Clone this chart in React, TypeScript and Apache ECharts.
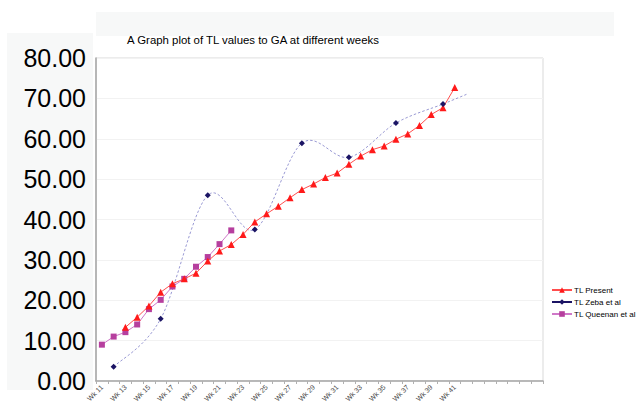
import React, { useEffect, useRef } from "react";
import * as echarts from "echarts";

const weeks: string[] = [
  "Wk 11", "Wk 12", "Wk 13", "Wk 14", "Wk 15", "Wk 16", "Wk 17", "Wk 18",
  "Wk 19", "Wk 20", "Wk 21", "Wk 22", "Wk 23", "Wk 24", "Wk 25", "Wk 26",
  "Wk 27", "Wk 28", "Wk 29", "Wk 30", "Wk 31", "Wk 32", "Wk 33", "Wk 34",
  "Wk 35", "Wk 36", "Wk 37", "Wk 38", "Wk 39", "Wk 40", "Wk 41", "Wk 42",
  "", "", "", "", "", "",
];

// values aligned with weeks (null = no measurement)
const tlPresent: (number | null)[] = [
  null, null, 13.3, 15.8, 18.6, 22.0, 24.1, 25.3, 26.7, 29.7, 32.2, 33.8,
  36.3, 39.4, 41.4, 43.3, 45.4, 47.4, 48.8, 50.4, 51.5, 53.7, 55.7, 57.3,
  58.2, 59.9, 61.2, 63.3, 66.0, 67.7, 72.7, null,
];

const zebaWeeks: string[] = ["Wk 12", "Wk 16", "Wk 20", "Wk 24", "Wk 28", "Wk 32", "Wk 36", "Wk 40"];
const zebaValues: number[] = [3.5, 15.4, 46.0, 37.5, 58.9, 55.4, 63.9, 68.6];
// end of the dashed smoothed Zeba curve
const zebaCurveEndWeek = "Wk 42";
const zebaCurveEndValue = 71.0;

const queenan: (number | null)[] = [
  9.0, 11.0, 12.1, 14.0, 17.8, 20.1, 23.4, 25.3, 28.3, 30.7, 33.9, 37.3,
];

const yTicks = { min: 0, max: 80, interval: 10 };
const titleText = "A Graph plot of TL values to GA at different weeks";

export default function App() {
  const ref = useRef<HTMLDivElement>(null);
  useEffect(() => {
    if (!ref.current) return;
    const chart = echarts.init(ref.current, null, { renderer: "svg" });
    const zebaAligned = weeks.map((w) => {
      const i = zebaWeeks.indexOf(w);
      return i >= 0 && w !== "" ? zebaValues[i] : null;
    });
    const curveWeeks = [...zebaWeeks, zebaCurveEndWeek];
    const curveValues = [...zebaValues, zebaCurveEndValue];
    const font = "'Liberation Sans', Arial, sans-serif";

    const renderCurve = (_params: any, api: any) => {
      const pts: number[][] = curveWeeks.map((w, i) => api.coord([weeks.indexOf(w), curveValues[i]]));
      const n = pts.length;
      let d = `M${pts[0][0]},${pts[0][1]}`;
      for (let i = 0; i < n - 1; i++) {
        const p0 = pts[Math.max(i - 1, 0)];
        const p1 = pts[i];
        const p2 = pts[i + 1];
        const p3 = pts[Math.min(i + 2, n - 1)];
        const c1x = p1[0] + (p2[0] - p0[0]) / 6;
        const c1y = p1[1] + (p2[1] - p0[1]) / 6;
        const c2x = p2[0] - (p3[0] - p1[0]) / 6;
        const c2y = p2[1] - (p3[1] - p1[1]) / 6;
        d += ` C${c1x},${c1y} ${c2x},${c2y} ${p2[0]},${p2[1]}`;
      }
      return {
        type: "path",
        shape: { pathData: d },
        style: { stroke: "#9a9ad4", fill: "none", lineWidth: 1, lineDash: [2.5, 2] },
        silent: true,
      };
    };

    chart.setOption({
      animation: false,
      backgroundColor: "#ffffff",
      textStyle: { fontFamily: font },
      graphic: [
        { type: "rect", z: -10, shape: { x: 96, y: 12, width: 518, height: 24 }, style: { fill: "#f7f8f8" } },
        { type: "rect", z: -10, shape: { x: 7, y: 33, width: 86, height: 357 }, style: { fill: "#f7f8f8" } },
        {
          type: "text", x: 253, y: 40, z: 10,
          style: { text: titleText, fontSize: 11.4, fontFamily: font, fill: "#000", textAlign: "center", textVerticalAlign: "middle" },
        },
      ],
      legend: {
        orient: "vertical",
        left: 546,
        top: 281,
        itemWidth: 20,
        itemHeight: 7,
        itemGap: 4,
        textStyle: { fontSize: 8, fontFamily: font, color: "#000", padding: [0, 0, 0, -3] },
        data: ["TL Present", "TL Zeba et al", "TL Queenan et al"],
      },
      grid: { left: 96, right: 98, top: 58, bottom: 26, show: true, borderColor: "#d9d9d9", borderWidth: 1, backgroundColor: "#fff" },
      xAxis: {
        type: "category",
        data: weeks,
        boundaryGap: true,
        axisLine: { lineStyle: { color: "#a6a6a6", width: 1.5 } },
        axisTick: { show: true, interval: 0, length: 3, lineStyle: { color: "#b0b0b0" } },
        axisLabel: { interval: 1, rotate: 45, fontSize: 7, color: "#444", margin: 5, fontFamily: font },
        splitLine: { show: false },
      },
      yAxis: {
        type: "value",
        min: yTicks.min,
        max: yTicks.max,
        interval: yTicks.interval,
        axisLine: { show: true, lineStyle: { color: "#a6a6a6", width: 1.5 } },
        axisTick: { show: false },
        axisLabel: { fontSize: 25, color: "#000", margin: 10, fontFamily: font, formatter: (v: number) => v.toFixed(2) },
        splitLine: { show: true, lineStyle: { color: "#f2f2f2", width: 1 } },
      },
      series: [
        {
          name: "Zeba curve",
          type: "custom",
          coordinateSystem: "cartesian2d",
          data: [[0, 0]],
          renderItem: renderCurve,
          silent: true,
          z: 1,
        },
        {
          name: "TL Present",
          type: "line",
          data: tlPresent,
          symbol: "triangle",
          symbolSize: 7,
          itemStyle: { color: "#ff1a1a" },
          lineStyle: { color: "#ff4d4d", width: 1 },
          z: 3,
        },
        {
          name: "TL Zeba et al",
          type: "line",
          data: zebaAligned,
          connectNulls: false,
          symbol: "diamond",
          symbolSize: 6,
          itemStyle: { color: "#1b1464" },
          lineStyle: { color: "#1b1464", width: 1 },
          z: 4,
        },
        {
          name: "TL Queenan et al",
          type: "line",
          data: queenan,
          symbol: "rect",
          symbolSize: 6,
          itemStyle: { color: "#b63f9e" },
          lineStyle: { color: "#cf78c8", width: 1 },
          z: 2,
        },
      ],
    });
    return () => chart.dispose();
  }, []);
  return <div ref={ref} style={{ position: "fixed", left: 0, top: 0, width: 641, height: 407 }} />;
}
